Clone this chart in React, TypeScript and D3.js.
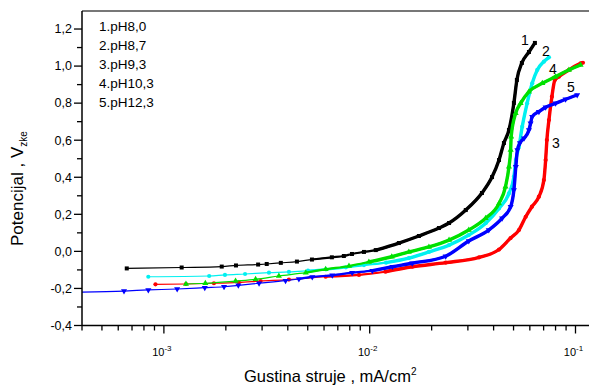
import React from 'react';
import * as d3 from 'd3';

const yTickValues = [-0.4, -0.2, 0, 0.2, 0.4, 0.6, 0.8, 1.0, 1.2];
const yTickLabels = ['-0,4', '-0,2', '0,0', '0,2', '0,4', '0,6', '0,8', '1,0', '1,2'];
const xTickExps = [-3, -2, -1];
const legendLabels = ['1.pH8,0', '2.pH8,7', '3.pH9,3', '4.pH10,3', '5.pH12,3'];
const curveLabels = ['1', '2', '3', '4', '5'];

// Series 1: pH 8,0 (black)
const s1X = [0.00066, 0.00122, 0.00191, 0.00224, 0.00287, 0.00316, 0.0037, 0.00443, 0.00524, 0.00655, 0.00749, 0.0082, 0.00938, 0.0107, 0.01386, 0.01734, 0.0217, 0.0243, 0.0293, 0.0351, 0.0393, 0.0425, 0.0449, 0.0475, 0.0502, 0.0519, 0.0549, 0.0594, 0.0635];
const s1Y = [-0.092, -0.087, -0.082, -0.076, -0.071, -0.068, -0.062, -0.055, -0.044, -0.032, -0.025, -0.014, -0.003, 0.007, 0.045, 0.083, 0.126, 0.153, 0.223, 0.315, 0.401, 0.493, 0.585, 0.655, 0.801, 0.925, 1.017, 1.076, 1.125];

// Series 2: pH 8,7 (cyan)
const s2X = [0.00084, 0.00166, 0.00198, 0.00248, 0.00324, 0.00405, 0.00501, 0.00613, 0.00766, 0.00938, 0.012, 0.0155, 0.0194, 0.0243, 0.0303, 0.0366, 0.0425, 0.0475, 0.0502, 0.0513, 0.0531, 0.0551, 0.0582, 0.0616, 0.0652, 0.0702, 0.0743];
const s2Y = [-0.137, -0.133, -0.127, -0.122, -0.115, -0.111, -0.104, -0.097, -0.086, -0.074, -0.061, -0.036, -0.003, 0.034, 0.088, 0.152, 0.232, 0.313, 0.403, 0.493, 0.565, 0.673, 0.799, 0.907, 0.979, 1.024, 1.047];

// Series 3: pH 9,3 (red)
const s3X = [0.00091, 0.00128, 0.00175, 0.00231, 0.00295, 0.00405, 0.00611, 0.00887, 0.0119, 0.0161, 0.0234, 0.034, 0.0425, 0.0484, 0.0531, 0.0573, 0.0614, 0.0664, 0.0702, 0.0716, 0.0726, 0.0743, 0.0768, 0.0794, 0.083, 0.0929, 0.1059, 0.1087];
const s3Y = [-0.178, -0.176, -0.172, -0.167, -0.16, -0.152, -0.137, -0.127, -0.11, -0.083, -0.061, -0.032, 0.01, 0.072, 0.115, 0.187, 0.241, 0.295, 0.385, 0.493, 0.601, 0.709, 0.835, 0.925, 0.943, 0.979, 1.015, 1.018];

// Series 4: pH 10,3 (green)
const s4X = [0.00128, 0.00159, 0.00223, 0.00279, 0.00362, 0.00489, 0.00611, 0.00793, 0.00991, 0.0128, 0.0155, 0.0194, 0.0243, 0.0303, 0.0366, 0.0425, 0.0457, 0.0475, 0.0484, 0.0487, 0.0512, 0.0541, 0.0594, 0.069, 0.08, 0.0929, 0.1059];
const s4Y = [-0.176, -0.172, -0.16, -0.151, -0.133, -0.115, -0.097, -0.079, -0.057, -0.029, -0.003, 0.024, 0.061, 0.115, 0.179, 0.259, 0.349, 0.457, 0.547, 0.619, 0.745, 0.799, 0.862, 0.907, 0.943, 0.979, 1.006];

// Series 5: pH 12,3 (blue)
const s5X = [0.00037, 0.00064, 0.00084, 0.00116, 0.00158, 0.00196, 0.0023, 0.0029, 0.0039, 0.00453, 0.00526, 0.00658, 0.00822, 0.0103, 0.0129, 0.0161, 0.0234, 0.0303, 0.0379, 0.044, 0.0484, 0.0502, 0.0513, 0.0522, 0.0537, 0.0562, 0.0594, 0.0605, 0.0616, 0.0664, 0.0716, 0.08, 0.0895, 0.1019];
const s5Y = [-0.22, -0.214, -0.208, -0.203, -0.196, -0.191, -0.183, -0.172, -0.158, -0.149, -0.138, -0.129, -0.115, -0.104, -0.083, -0.064, -0.026, 0.056, 0.115, 0.179, 0.241, 0.331, 0.457, 0.547, 0.585, 0.61, 0.655, 0.691, 0.727, 0.754, 0.778, 0.799, 0.821, 0.844];

const seriesX = [s1X, s2X, s3X, s4X, s5X];
const seriesY = [s1Y, s2Y, s3Y, s4Y, s5Y];
const colors = ['#000000', '#00f0f0', '#ff0000', '#00e000', '#0000ff'];
const markers = ['square', 'circle', 'circle', 'triangle', 'triangleDown'];
const labelPos = [[525, 40], [546, 51], [556, 143], [553, 69], [571, 87]];

const L = 82, T = 11, B = 325.5;
const x = d3.scaleLog().domain([4e-4, 0.12]).range([L, L + 205.8 * Math.log10(0.12 / 4e-4)]);
const y = d3.scaleLinear().domain([-0.4, 1.3]).range([B, B - 185.3 * 1.7]);

function Marker({ type, cx, cy, color }: { type: string; cx: number; cy: number; color: string }) {
  if (type === 'square') return <rect x={cx - 2} y={cy - 2} width={4} height={4} fill={color} />;
  if (type === 'circle') return <circle cx={cx} cy={cy} r={2.1} fill={color} />;
  const sym = d3.symbol().type(d3.symbolTriangle).size(16)();
  return <path d={sym || ''} fill={color} transform={`translate(${cx},${cy})${type === 'triangleDown' ? ' rotate(180)' : ''}`} />;
}

export default function App() {
  const line = d3.line<[number, number]>().x(d => x(d[0])).y(d => y(d[1])).curve(d3.curveMonotoneX);
  const font = 'Liberation Sans, Arial, sans-serif';
  const yMinor = d3.range(-0.3, 1.3, 0.2);
  const xMinor: number[] = [];
  for (let e = -4; e <= -1; e++) for (let k = 2; k <= 9; k++) { const v = k * Math.pow(10, e); if (v >= 4e-4 && v <= 0.12) xMinor.push(v); }
  return (
    <svg width={589} height={387} style={{ position: 'absolute', left: 0, top: 0, background: '#fff' }} fontFamily={font}>
      <defs>
        <clipPath id="plot"><rect x={L} y={T} width={600} height={B - T} /></clipPath>
      </defs>
      <g clipPath="url(#plot)">
        {seriesX.map((xs, i) => {
          const pts = xs.map((v, j) => [v, seriesY[i][j]] as [number, number]);
          const mid = pts.filter(p => p[0] >= 0.0045);
          const dense = pts.filter(p => p[0] >= 0.0095);
          return (
            <g key={i}>
              <path d={line(pts) || ''} fill="none" stroke={colors[i]} strokeWidth={1.2} />
              <path d={line(mid) || ''} fill="none" stroke={colors[i]} strokeWidth={2.2} strokeLinejoin="round" />
              <path d={line(dense) || ''} fill="none" stroke={colors[i]} strokeWidth={3.4} strokeLinejoin="round" />
              {pts.map((p, j) => <Marker key={j} type={markers[i]} cx={x(p[0])} cy={y(p[1])} color={colors[i]} />)}
            </g>
          );
        })}
      </g>
      {/* axes */}
      <line x1={L} x2={589} y1={T} y2={T} stroke="#777" strokeWidth={2} />
      <line x1={L} x2={L} y1={T} y2={B} stroke="#000" strokeWidth={1.5} />
      <line x1={L} x2={589} y1={B} y2={B} stroke="#000" strokeWidth={1.5} />
      {yTickValues.map((v, i) => (
        <g key={i}>
          <line x1={L - 8} x2={L} y1={y(v)} y2={y(v)} stroke="#000" strokeWidth={1.3} />
          <text x={L - 10} y={y(v) + 4.3} textAnchor="end" fontSize={12.5}>{yTickLabels[i]}</text>
        </g>
      ))}
      {yMinor.map((v, i) => <line key={i} x1={L - 5} x2={L} y1={y(v)} y2={y(v)} stroke="#000" strokeWidth={1.3} />)}
      {xTickExps.map((e, i) => {
        const px = x(Math.pow(10, e));
        return (
          <g key={i}>
            <line x1={px} x2={px} y1={B} y2={B + 8} stroke="#000" strokeWidth={1.3} />
            <text x={px - 2} y={356} textAnchor="middle" fontSize={11}>10<tspan fontSize={8} dy={-5}>{String(e)}</tspan></text>
          </g>
        );
      })}
      {xMinor.map((v, i) => <line key={i} x1={x(v)} x2={x(v)} y1={B} y2={B + 5} stroke="#000" strokeWidth={1.3} />)}
      {/* titles */}
      <text x={244} y={382} fontSize={16.5}>Gustina struje , mA/cm<tspan fontSize={10} dy={-7}>2</tspan></text>
      <text transform="translate(23,246) rotate(-90)" fontSize={17}>Potencijal , V<tspan fontSize={10} dy={4}>zke</tspan></text>
      {/* legend */}
      {legendLabels.map((t, i) => <text key={i} x={99} y={31 + i * 19} fontSize={13.5}>{t}</text>)}
      {curveLabels.map((t, i) => <text key={i} x={labelPos[i][0]} y={labelPos[i][1] + 5} textAnchor="middle" fontSize={14}>{t}</text>)}
    </svg>
  );
}
